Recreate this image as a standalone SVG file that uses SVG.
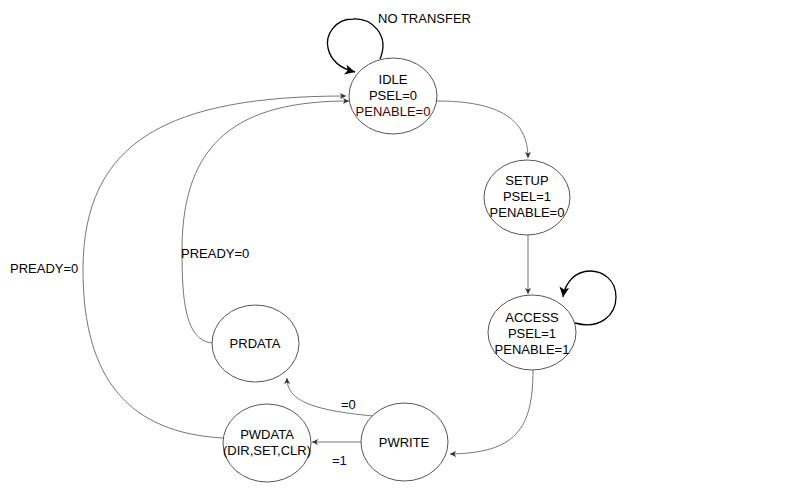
<svg xmlns="http://www.w3.org/2000/svg" width="808" height="495" viewBox="0 0 808 495">
<style>
.n{fill:#fff;stroke:#555;stroke-width:1}
.t{font-family:"Liberation Sans",Arial,sans-serif;font-size:13px;fill:#000;text-anchor:middle}
.l{font-family:"Liberation Sans",Arial,sans-serif;font-size:13px;fill:#000}
.e{fill:none;stroke:#777;stroke-width:1}
.s{fill:none;stroke:#000;stroke-width:1.3}
</style>
<defs>
<marker id="a" markerUnits="userSpaceOnUse" markerWidth="8" markerHeight="8" refX="6" refY="3" orient="auto"><path d="M0,0 L6,3 L0,6 L1.5,3 Z" fill="#333"/></marker>
<marker id="b" markerUnits="userSpaceOnUse" markerWidth="12" markerHeight="12" refX="10" refY="5" orient="auto"><path d="M0,0 L10,5 L0,10 L2.5,5 Z" fill="#000"/></marker>
</defs>
<rect width="808" height="495" fill="#fff"/>
<g id="connectors">
<path class="s" d="M380 59 C 390 35, 372 18, 353 19 C 335 19, 325 35, 328 48 C 331 62, 343 69, 355 72" marker-end="url(#b)"/>
<path class="e" d="M437 101 C 500 101, 528 120, 528 158" marker-end="url(#a)"/>
<path class="e" d="M528 235 L528 294" marker-end="url(#a)"/>
<path class="s" d="M575 323 C 600 330, 616 315, 616 297 C 616 280, 603 271, 590 271 C 575 271, 565 283, 563 297" marker-end="url(#b)"/>
<path class="e" d="M533 370 C 533 430, 515 453, 450 454" marker-end="url(#a)"/>
<path class="e" d="M361 442 L312 442" marker-end="url(#a)"/>
<path class="e" d="M373 416 C 310 410, 287 400, 287 378" marker-end="url(#a)"/>
<path class="e" d="M212 343 C 185 340, 182 300, 182 250 C 182 140, 240 101, 349 101" marker-end="url(#a)"/>
<path class="e" d="M223 438 C 130 433, 83 380, 83 270 C 83 140, 170 96, 346 96" marker-end="url(#a)"/>
<text class="l" x="378" y="23">NO TRANSFER</text>
<text class="l" x="341" y="409">=0</text>
<text class="l" x="332" y="465" style="fill:#000080">=1</text>
<text class="l" x="181" y="258">PREADY=0</text>
<text class="l" x="10" y="273">PREADY=0</text>
</g>
<g id="idle">
<ellipse class="n" cx="393" cy="96" rx="44" ry="38"/>
<text class="t" x="393" y="84">IDLE</text>
<text class="t" x="393" y="100">PSEL=0</text>
<text class="t" x="393" y="116" style="fill:#4a0000">PENABLE=0</text>
</g>
<g id="setup">
<ellipse class="n" cx="527" cy="197.5" rx="43" ry="37.5"/>
<text class="t" x="527" y="185">SETUP</text>
<text class="t" x="527" y="201">PSEL=1</text>
<text class="t" x="527" y="217">PENABLE=0</text>
</g>
<g id="access">
<ellipse class="n" cx="532" cy="332.5" rx="44" ry="37.5"/>
<text class="t" x="532" y="322">ACCESS</text>
<text class="t" x="532" y="338">PSEL=1</text>
<text class="t" x="532" y="354">PENABLE=1</text>
</g>
<g id="prdata">
<ellipse class="n" cx="255.5" cy="343.5" rx="43.5" ry="38.5"/>
<text class="t" x="255" y="348">PRDATA</text>
</g>
<g id="pwdata">
<ellipse class="n" cx="267" cy="443" rx="44" ry="39"/>
<text class="t" x="267" y="439">PWDATA</text>
<text class="t" x="267" y="455">(DIR,SET,CLR)</text>
</g>
<g id="pwrite">
<ellipse class="n" cx="404.5" cy="442" rx="43.5" ry="39"/>
<text class="t" x="404" y="447">PWRITE</text>
</g>
</svg>
